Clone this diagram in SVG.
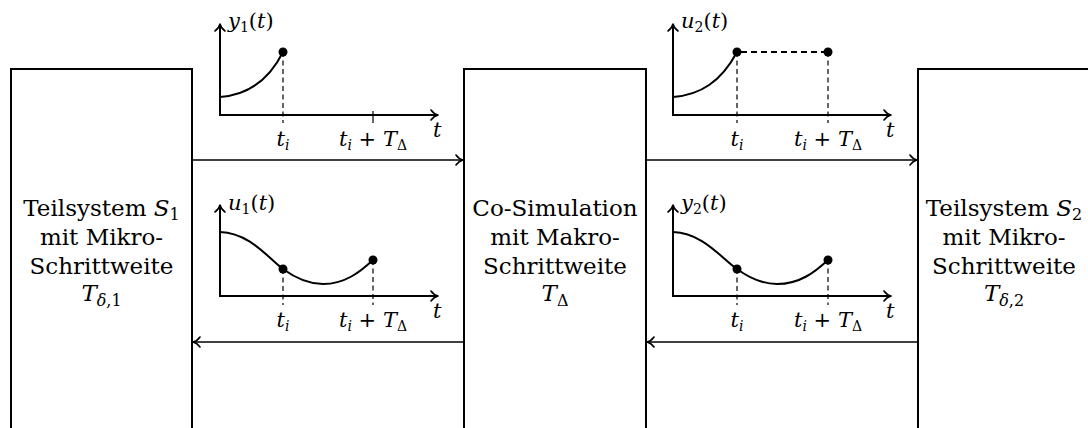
<svg xmlns="http://www.w3.org/2000/svg" width="1088" height="428" viewBox="0 0 1088 428" font-family="DejaVu Serif, serif">
<style>
  .box { fill: #fff; stroke: #000; stroke-width: 2; }
  .ax { stroke: #000; stroke-width: 2; fill: none; }
  .cv { stroke: #000; stroke-width: 2; fill: none; }
  .dash { stroke: #000; stroke-width: 1.2; stroke-dasharray: 5 3.5; fill: none; }
  .hdash { stroke: #000; stroke-width: 2; stroke-dasharray: 6 4; fill: none; }
  .tick { stroke: #000; stroke-width: 1.2; }
  .con { stroke: #000; stroke-width: 1.6; fill: none; }
  .dot { fill: #000; }
  text { font-family: 'DejaVu Serif', serif; fill: #000; }
  .main { font-size: 23px; text-anchor: middle; }
  .lab { font-size: 21px; }
  .mid { text-anchor: middle; }
  .it { font-style: italic; }
</style>
<defs>
  <marker id="arr" markerUnits="userSpaceOnUse" orient="auto" markerWidth="14" markerHeight="14" refX="0" refY="0" viewBox="-8 -7 10 14" overflow="visible">
    <path d="M-7,-5 C-5,-2.2 -2.5,-0.6 0,0 C-2.5,0.6 -5,2.2 -7,5" fill="none" stroke="#000" stroke-width="1.6" stroke-linecap="round" stroke-linejoin="round"/>
  </marker>
</defs>

<g id="teilsystem1">
  <rect class="box" x="11" y="69" width="181" height="420"/>
  <text class="main" x="101.5" y="216">Teilsystem <tspan class="it">S</tspan><tspan font-size="16" dy="4">1</tspan></text>
  <text class="main" x="101.5" y="245">mit Mikro-</text>
  <text class="main" x="101.5" y="274">Schrittweite</text>
  <text class="main" x="101.5" y="301"><tspan class="it">T</tspan><tspan font-size="16" dy="5"><tspan class="it">δ</tspan>,1</tspan></text>
</g>

<g id="cosimulation">
  <rect class="box" x="464" y="69" width="182" height="420"/>
  <text class="main" x="555" y="216">Co-Simulation</text>
  <text class="main" x="555" y="245">mit Makro-</text>
  <text class="main" x="555" y="274">Schrittweite</text>
  <text class="main" x="555" y="301"><tspan class="it">T</tspan><tspan font-size="16" dy="5">Δ</tspan></text>
</g>

<g id="teilsystem2">
  <rect class="box" x="918" y="69" width="182" height="420"/>
  <text class="main" x="1004" y="216">Teilsystem <tspan class="it">S</tspan><tspan font-size="16" dy="4">2</tspan></text>
  <text class="main" x="1004" y="245">mit Mikro-</text>
  <text class="main" x="1004" y="274">Schrittweite</text>
  <text class="main" x="1004" y="301"><tspan class="it">T</tspan><tspan font-size="16" dy="5"><tspan class="it">δ</tspan>,2</tspan></text>
</g>

<g id="connectors">
  <line class="con" x1="192" y1="160" x2="463" y2="160" marker-end="url(#arr)"/>
  <line class="con" x1="464" y1="342" x2="193" y2="342" marker-end="url(#arr)"/>
  <line class="con" x1="646" y1="160" x2="917" y2="160" marker-end="url(#arr)"/>
  <line class="con" x1="918" y1="342" x2="647" y2="342" marker-end="url(#arr)"/>
</g>

<g id="plot-y1">
  <line class="ax" x1="220" y1="116" x2="220" y2="24" marker-end="url(#arr)"/>
  <line class="ax" x1="219" y1="115" x2="438" y2="115" marker-end="url(#arr)"/>
  <line class="dash" x1="283" y1="52" x2="283" y2="123"/>
  <line class="tick" x1="373" y1="111" x2="373" y2="123"/>
  <path class="cv" d="M220,97 C247,95 268,82 283,52"/>
  <circle class="dot" cx="283" cy="52" r="4.5"/>
  <text class="lab" x="228" y="28"><tspan class="it">y</tspan><tspan font-size="14" dy="4">1</tspan><tspan dy="-4">(</tspan><tspan class="it">t</tspan>)</text>
  <text class="lab mid" x="283" y="146"><tspan class="it">t</tspan><tspan class="it" font-size="14" dy="4">i</tspan></text>
  <text class="lab mid" x="373" y="146"><tspan class="it">t</tspan><tspan class="it" font-size="14" dy="4">i</tspan><tspan dy="-4"> + </tspan><tspan class="it">T</tspan><tspan font-size="14" dy="4">Δ</tspan></text>
  <text class="lab it" x="433" y="137">t</text>
</g>

<g id="plot-u1">
  <line class="ax" x1="220" y1="297" x2="220" y2="205" marker-end="url(#arr)"/>
  <line class="ax" x1="219" y1="296" x2="438" y2="296" marker-end="url(#arr)"/>
  <line class="dash" x1="283" y1="269" x2="283" y2="305"/>
  <line class="dash" x1="373" y1="260" x2="373" y2="305"/>
  <path class="cv" d="M220,232 C250,233 268,258 283,269 C298,280 310,284 323,284 C345,284 360,272 373,260"/>
  <circle class="dot" cx="283" cy="269" r="4.5"/>
  <circle class="dot" cx="373" cy="260" r="4.5"/>
  <text class="lab" x="228" y="210"><tspan class="it">u</tspan><tspan font-size="14" dy="4">1</tspan><tspan dy="-4">(</tspan><tspan class="it">t</tspan>)</text>
  <text class="lab mid" x="283" y="327"><tspan class="it">t</tspan><tspan class="it" font-size="14" dy="4">i</tspan></text>
  <text class="lab mid" x="373" y="327"><tspan class="it">t</tspan><tspan class="it" font-size="14" dy="4">i</tspan><tspan dy="-4"> + </tspan><tspan class="it">T</tspan><tspan font-size="14" dy="4">Δ</tspan></text>
  <text class="lab it" x="433" y="318">t</text>
</g>

<g id="plot-u2">
  <line class="ax" x1="673" y1="116" x2="673" y2="24" marker-end="url(#arr)"/>
  <line class="ax" x1="672" y1="115" x2="891" y2="115" marker-end="url(#arr)"/>
  <line class="dash" x1="737" y1="52" x2="737" y2="123"/>
  <line class="dash" x1="828" y1="52" x2="828" y2="123"/>
  <line class="hdash" x1="741" y1="52" x2="828" y2="52"/>
  <path class="cv" d="M673,97 C700,95 721,82 737,52"/>
  <circle class="dot" cx="737" cy="52" r="4.5"/>
  <circle class="dot" cx="828" cy="52" r="4.5"/>
  <text class="lab" x="681" y="28"><tspan class="it">u</tspan><tspan font-size="14" dy="4">2</tspan><tspan dy="-4">(</tspan><tspan class="it">t</tspan>)</text>
  <text class="lab mid" x="737" y="146"><tspan class="it">t</tspan><tspan class="it" font-size="14" dy="4">i</tspan></text>
  <text class="lab mid" x="828" y="146"><tspan class="it">t</tspan><tspan class="it" font-size="14" dy="4">i</tspan><tspan dy="-4"> + </tspan><tspan class="it">T</tspan><tspan font-size="14" dy="4">Δ</tspan></text>
  <text class="lab it" x="886" y="137">t</text>
</g>

<g id="plot-y2">
  <line class="ax" x1="673" y1="297" x2="673" y2="205" marker-end="url(#arr)"/>
  <line class="ax" x1="672" y1="296" x2="891" y2="296" marker-end="url(#arr)"/>
  <line class="dash" x1="737" y1="269" x2="737" y2="305"/>
  <line class="dash" x1="828" y1="260" x2="828" y2="305"/>
  <path class="cv" d="M673,232 C703,233 721,258 737,269 C752,280 764,284 777,284 C800,284 815,272 828,260"/>
  <circle class="dot" cx="737" cy="269" r="4.5"/>
  <circle class="dot" cx="828" cy="260" r="4.5"/>
  <text class="lab" x="681" y="210"><tspan class="it">y</tspan><tspan font-size="14" dy="4">2</tspan><tspan dy="-4">(</tspan><tspan class="it">t</tspan>)</text>
  <text class="lab mid" x="737" y="327"><tspan class="it">t</tspan><tspan class="it" font-size="14" dy="4">i</tspan></text>
  <text class="lab mid" x="828" y="327"><tspan class="it">t</tspan><tspan class="it" font-size="14" dy="4">i</tspan><tspan dy="-4"> + </tspan><tspan class="it">T</tspan><tspan font-size="14" dy="4">Δ</tspan></text>
  <text class="lab it" x="886" y="318">t</text>
</g>
</svg>
